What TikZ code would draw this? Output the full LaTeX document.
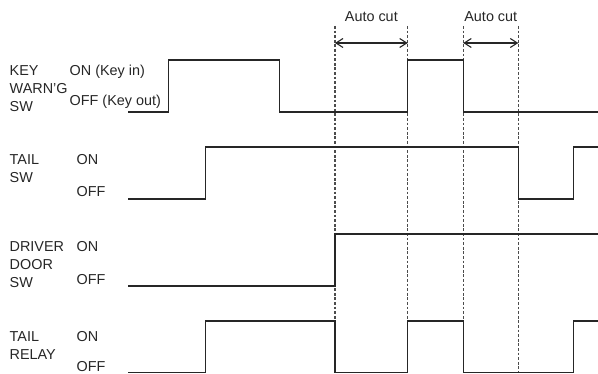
\documentclass[tikz,border=0pt]{standalone}
\usepackage{fontspec}
\setmainfont{Liberation Sans}
\usetikzlibrary{arrows.meta}
\tikzset{
  wave/.style={line width=1.3pt,black!85,line join=miter},      % signal trace
  cutline/.style={line width=1.4pt,black!70,dash pattern=on 2.8pt off 1.8pt},
  span/.style={{Straight Barb[length=7pt,width=9pt]}-{Straight Barb[length=7pt,width=9pt]},line width=1.1pt,black!85},
  lbl/.style={anchor=base west,inner sep=0pt,text=black!85,font=\fontsize{14.4}{17}\selectfont},
}

\begin{document}
\begin{tikzpicture}[x=1pt,y=-1pt]
  \useasboundingbox (0,0) rectangle (598,374);
  % auto cut marks
  \foreach \x [count=\i] in {335,407.7,463.3,518.3} {
    \coordinate (cut\i) at (\x,43);
    \draw[cutline] (\x,26) -- (\x,373);
  }
  \draw[span] (cut1) -- node[lbl,anchor=base,yshift=21.3pt] (cuttxt1) {Auto cut} (cut2);
  \draw[span] (cut3) -- node[lbl,anchor=base,yshift=21.3pt] (cuttxt2) {Auto cut} (cut4);
  % signal names and levels
  \foreach \x/\y/\t [count=\i] in {9.5/76/KEY, 9.5/94/WARN'G, 9.5/111.5/SW, 69.5/76/ON (Key in), 69.5/106/OFF (Key out),
      9.5/164.3/TAIL, 9.5/182.3/SW, 76.5/164.3/ON, 76.5/196.7/OFF,
      9.5/252/DRIVER, 9.5/270/DOOR, 9.5/288/SW, 76.5/252/ON, 76.5/284.5/OFF,
      9.5/341.7/TAIL, 9.5/360/RELAY, 76.5/341.7/ON, 76.5/371.2/OFF}
    \node[lbl] (lab\i) at (\x,\y) {\t};
  % traces
  \draw[wave] (128,112) -| (168.3,60) -| (279.3,112) -| (407.7,60) -| (463.3,112) -- (597.5,112);
  \draw[wave] (128,199) -| (205.7,147) -| (518.3,199) -| (573.3,147) -- (597.5,147);
  \draw[wave] (128,286) -| (335,234) -- (597.5,234);
  \draw[wave] (128,372.8) -| (205.7,321) -| (335,372.8) -| (407.7,321) -| (463.3,372.8) -| (573.3,321) -- (597.5,321);
\end{tikzpicture}
\end{document}
